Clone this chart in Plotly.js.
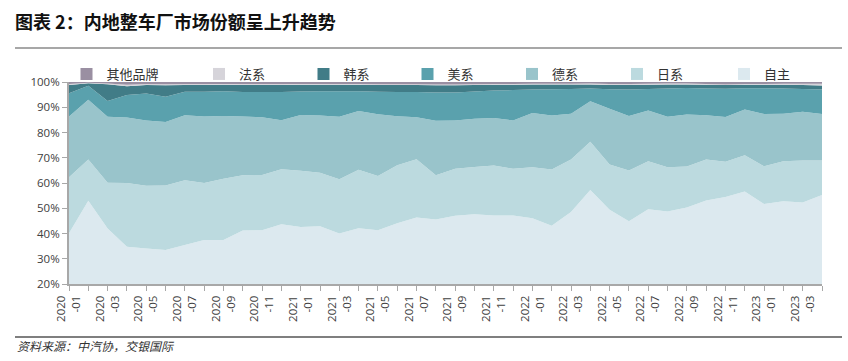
<!DOCTYPE html>
<html>
<head>
<meta charset="utf-8">
<script src="https://cdn.plot.ly/plotly-3.0.1.min.js"></script>
<style>
html,body{margin:0;padding:0;background:#fff;}
#chart{width:848px;height:361px;}
</style>
</head>
<body>
<div id="chart"></div>
<script>
// ---- data ----
const months = [
  "2020-01","2020-02","2020-03","2020-04","2020-05","2020-06","2020-07","2020-08","2020-09","2020-10","2020-11","2020-12",
  "2021-01","2021-02","2021-03","2021-04","2021-05","2021-06","2021-07","2021-08","2021-09","2021-10","2021-11","2021-12",
  "2022-01","2022-02","2022-03","2022-04","2022-05","2022-06","2022-07","2022-08","2022-09","2022-10","2022-11","2022-12",
  "2023-01","2023-02","2023-03","2023-04"
];
const seriesNames = ["自主","日系","德系","美系","韩系","法系","其他品牌"];
const ziZhu   = [40.1,53.0,42.0,34.8,34.1,33.5,35.4,37.4,37.4,41.2,41.3,43.7,42.6,42.9,40.0,42.1,41.3,44.1,46.3,45.5,47.0,47.6,47.1,47.1,46.0,43.1,48.5,57.2,49.4,44.9,49.6,48.7,50.3,53.1,54.5,56.6,51.7,52.8,52.3,55.2];
const riXi    = [22.2,16.3,18.1,25.2,24.8,25.5,25.7,22.6,24.3,21.9,21.9,21.7,22.3,21.2,21.5,23.1,21.5,22.9,23.1,17.6,18.6,18.7,19.8,18.5,20.2,22.2,20.8,19.1,17.9,20.1,19.0,17.5,16.2,16.2,13.9,14.4,14.9,15.8,16.6,13.7];
const deXi    = [24.0,23.7,26.1,25.9,25.9,25.2,25.7,26.3,24.8,23.2,22.8,19.5,22.0,22.6,24.7,23.3,24.4,19.4,16.6,21.6,19.2,19.1,18.8,19.2,21.5,21.4,18.1,16.1,22.1,21.5,20.1,20.0,20.6,17.5,17.7,18.1,20.7,18.8,19.3,18.4];
const meiXi   = [9.2,5.5,6.3,9.0,10.6,10.0,9.3,9.8,9.8,9.7,10.0,11.1,9.3,9.6,10.1,7.8,8.9,9.6,10.0,11.1,11.0,10.8,10.9,12.0,9.3,10.4,9.8,5.0,7.7,10.5,8.5,11.2,10.5,10.6,11.2,8.4,10.2,10.0,9.0,9.7];
const hanXi   = [3.3,1.0,6.6,3.4,3.4,4.5,2.7,2.7,2.6,2.8,2.8,2.8,2.7,2.6,2.6,2.6,2.7,2.8,2.8,2.9,2.9,2.6,2.3,2.1,2.0,1.9,1.8,1.6,1.7,1.8,1.7,1.6,1.4,1.5,1.5,1.4,1.4,1.5,1.6,1.6];
const faXi    = [0.4,0.2,0.3,0.6,0.4,0.4,0.4,0.4,0.3,0.4,0.4,0.4,0.3,0.3,0.3,0.3,0.3,0.3,0.3,0.3,0.3,0.3,0.3,0.3,0.3,0.3,0.3,0.4,0.4,0.4,0.4,0.4,0.4,0.3,0.2,0.3,0.3,0.4,0.5,0.7];
const qiTa    = [0.8,0.3,0.6,1.1,0.8,0.9,0.8,0.8,0.8,0.8,0.8,0.8,0.8,0.8,0.8,0.8,0.9,0.9,0.9,1.0,1.0,0.9,0.8,0.8,0.7,0.7,0.7,0.6,0.8,0.8,0.7,0.6,0.6,0.8,1.0,0.8,0.8,0.7,0.7,0.7];
const yTickVals = [20,30,40,50,60,70,80,90,100];

// ---- styling ----
const colors = ["#dce9ef","#bcdadf","#99c4cb","#5aa1ad","#417c87","#d6d4da","#9a8fa2"];
const seriesValues = [ziZhu, riXi, deXi, meiXi, hanXi, faXi, qiTa];

const traces = [];
seriesValues.forEach((vals, i) => {
  traces.push({
    type: "scatter", x: months, y: vals, name: seriesNames[i],
    stackgroup: "one", mode: "none", fillcolor: colors[i],
    line: {width: 0}, showlegend: false, hoverinfo: "skip"
  });
});

// legend entries (one per legend so they can be placed like the original)
const legendOrder = [6,5,4,3,2,1,0];
const legendLeftPx = [66.5, 199, 303.5, 407.5, 512, 617, 724];
const plotL = 69, plotW = 753, plotT = 82, plotH = 202;
const layoutLegends = {};
legendOrder.forEach((si, k) => {
  const key = k === 0 ? "legend" : "legend" + (k + 1);
  traces.push({
    type: "scatter", x: [null], y: [null], mode: "markers", name: seriesNames[si],
    marker: {symbol: "square", size: 8, color: colors[si]},
    legend: key, showlegend: true, hoverinfo: "skip"
  });
  layoutLegends[key] = {
    x: (legendLeftPx[k] - plotL) / plotW, xanchor: "left",
    y: (plotT + plotH - 74) / plotH, yanchor: "middle",
    orientation: "h", bgcolor: "rgba(0,0,0,0)", borderwidth: 0,
    font: {family: "Noto Sans CJK SC", size: 13, color: "#333"},
    itemsizing: "constant"
  };
});

const tickText = months.map((m, i) => i % 2 === 0 ? m.slice(0,4) + "<br>-" + m.slice(5) : "");

const px2x = p => (p - plotL) / plotW;
const px2y = p => (plotT + plotH - p) / plotH;

const layout = Object.assign({
  width: 848, height: 361,
  margin: {l: plotL, r: 848 - plotL - plotW, t: plotT, b: 361 - plotT - plotH, pad: 0},
  paper_bgcolor: "#fff", plot_bgcolor: "#fff",
  font: {family: "Open Sans, Liberation Sans, sans-serif", size: 11.5, color: "#404040"},
  title: {
    text: "图表 <b>2：</b>内地整车厂市场份额呈上升趋势",
    x: 15 / 848, xref: "container", xanchor: "left",
    y: 1 - 23 / 361, yref: "container", yanchor: "middle",
    font: {family: "Noto Sans CJK SC", size: 18, color: "#111", weight: 700}
  },
  xaxis: {
    type: "category", range: [0, months.length - 1],
    tickmode: "array", tickvals: months, ticktext: tickText,
    tickangle: -90, ticks: "outside", ticklen: 5, tickcolor: "#a8a8a8", tickwidth: 1,
    showline: true, linecolor: "#a8a8a8", linewidth: 2,
    showgrid: false, zeroline: false, fixedrange: true,
    tickfont: {family: "Open Sans, Liberation Sans, sans-serif", size: 11.5, color: "#404040"}
  },
  yaxis: {
    range: [20, 100], tickmode: "array", tickvals: yTickVals,
    ticktext: yTickVals.map(v => v + "%"),
    ticks: "outside", ticklen: 5, tickcolor: "#a8a8a8", tickwidth: 1,
    showline: true, linecolor: "#a8a8a8", linewidth: 2,
    showgrid: false, zeroline: false, fixedrange: true,
    tickfont: {family: "Open Sans, Liberation Sans, sans-serif", size: 11.5, color: "#404040"}
  },
  shapes: [
    {type: "line", xref: "paper", yref: "paper", x0: px2x(15), x1: px2x(842), y0: px2y(48), y1: px2y(48),
     line: {color: "#8a8a8a", width: 1.5}},
    {type: "line", xref: "paper", yref: "paper", x0: px2x(15), x1: px2x(842), y0: px2y(337), y1: px2y(337),
     line: {color: "#555", width: 1.5}}
  ],
  annotations: [
    {text: "<i>资料来源：中汽协，交银国际</i>", xref: "paper", yref: "paper",
     x: px2x(15), xanchor: "left", y: px2y(345), yanchor: "middle", showarrow: false,
     font: {family: "Noto Sans CJK SC", size: 12, color: "#333"}}
  ]
}, layoutLegends);

Plotly.newPlot("chart", traces, layout, {staticPlot: true, displayModeBar: false});
</script>
</body>
</html>
